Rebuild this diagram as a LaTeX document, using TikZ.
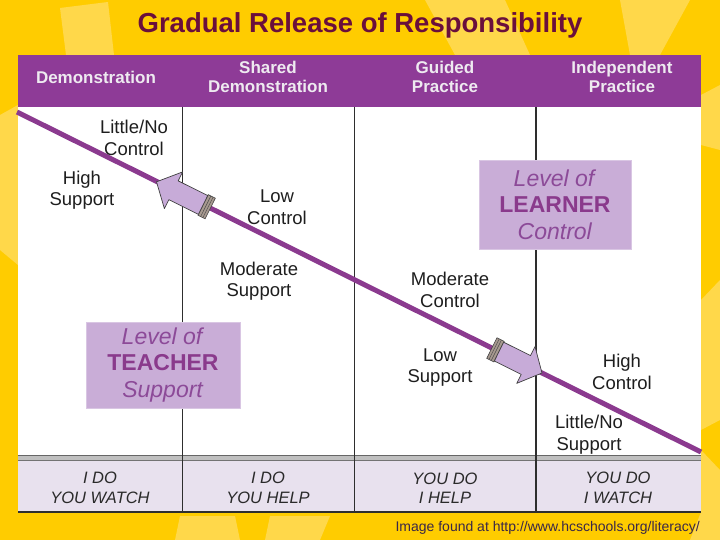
\documentclass[tikz,border=0pt]{standalone}
\usepackage{fontspec}
\setmainfont{Liberation Sans}
\definecolor{bgyellow}{HTML}{FFCC00}
\definecolor{lightpatch}{HTML}{FFD84A}
\definecolor{titlecol}{HTML}{6A0F3C}
\definecolor{hdrfill}{HTML}{8E3B97}
\definecolor{hdrtext}{HTML}{EEEAF0}
\definecolor{linecol}{HTML}{8B3A8F}
\definecolor{divcol}{HTML}{2E2E2E}
\definecolor{boxfill}{HTML}{C9ADD7}
\definecolor{boxtext}{HTML}{8C4A98}
\definecolor{boxbold}{HTML}{8A3A8C}
\definecolor{rowfill}{HTML}{E8E1EE}
\definecolor{rowtext}{HTML}{2A2A2A}
\definecolor{lbltext}{HTML}{1E1E1E}
\definecolor{arrowfill}{HTML}{C7ABD8}
\definecolor{bandfill}{HTML}{A89A90}
\definecolor{creditcol}{HTML}{3A2748}
\tikzset{
  hdr/.style={text=hdrtext, font=\bfseries\fontsize{17}{19.5}\selectfont, align=center, inner sep=0pt},
  lbl/.style={text=lbltext, font=\fontsize{18.5}{21.5}\selectfont, align=center, inner sep=0pt},
  rowlbl/.style={text=rowtext, font=\itshape\fontsize{16.5}{19.5}\selectfont, align=center, inner sep=0pt},
  levelbox/.style={fill=boxfill, draw=boxfill!70!white, line width=0.6pt, align=center, text=boxtext,
    font=\fontsize{23}{26.5}\selectfont, inner sep=0pt},
  divider/.style={draw=divcol, line width=1.3pt},
  patch/.style={fill=lightpatch, draw=none},
  blockarrow/.style={fill=arrowfill, draw=black!75, line width=0.7pt, line join=round},
  bandbox/.style={fill=bandfill, draw=black!75, line width=0.6pt},
}
\begin{document}
\begin{tikzpicture}[x=1pt,y=-1pt]
\useasboundingbox (0,0) rectangle (720,540);
% background
\fill[bgyellow] (0,0) rectangle (720,540);
\fill[patch] (60,8) -- (108,2) -- (114,55) -- (66,55) -- cycle;
\fill[patch] (425,0) -- (505,0) -- (530,55) -- (455,55) -- cycle;
\fill[patch] (620,0) -- (690,0) -- (660,55) -- (630,55) -- cycle;
\fill[patch] (0,115) -- (18,105) -- (18,265) -- (0,250) -- cycle;
\fill[patch] (701,95) -- (720,85) -- (720,150) -- (701,145) -- cycle;
\fill[patch] (701,300) -- (720,280) -- (720,420) -- (701,430) -- cycle;
\fill[patch] (701,450) -- (720,470) -- (720,540) -- (690,540) -- (701,512) -- cycle;
\fill[patch] (180,516) -- (235,516) -- (240,540) -- (175,540) -- cycle;
\fill[patch] (270,516) -- (330,516) -- (320,540) -- (265,540) -- cycle;
% title
\node[text=titlecol, font=\bfseries\fontsize{27.5}{30}\selectfont, inner sep=0pt] (title) at (360,25) {Gradual Release of Responsibility};
% table
\node[fill=white, minimum width=683pt, minimum height=405pt, inner sep=0pt] (body) at (359.5,309.5) {};
\node[fill=hdrfill, minimum width=683pt, minimum height=52pt, inner sep=0pt] (header) at (359.5,81) {};
\node[fill=rowfill, minimum width=683pt, minimum height=52pt, inner sep=0pt] (bottomrow) at (359.5,486) {};
\fill[black!25] (18,455) rectangle (701,460);
\draw[black!60, line width=1pt] (18,455) -- (701,455);
\draw[black!55, line width=1pt] (18,460) -- (701,460);
\draw[divcol, line width=1.2pt] (18,512) -- (701,512);
% column dividers
\coordinate (d1t) at (182.5,107); \coordinate (d1b) at (182.5,512);
\coordinate (d2t) at (354.5,107); \coordinate (d2b) at (354.5,512);
\coordinate (d3t) at (536,107);   \coordinate (d3b) at (536,512);
\draw[divider] (d1t) -- (d1b);
\draw[divider] (d2t) -- (d2b);
\draw[divider] (d3t) -- (d3b);
% header texts
\node[hdr] (h1) at (96,77) {Demonstration};
\node[hdr] (h2) at (268,77) {Shared\\Demonstration};
\node[hdr] (h3) at (445,77) {Guided\\Practice};
\node[hdr] (h4) at (622,77) {Independent\\Practice};
% level boxes
\node[levelbox, minimum width=152pt, minimum height=89pt] (learner) at (555,204.5)
  {\textit{Level of}\\\textcolor{boxbold}{\bfseries LEARNER}\\\textit{Control}};
\node[levelbox, minimum width=154pt, minimum height=86pt] (teacher) at (163,365)
  {\textit{Level of}\\\textcolor{boxbold}{\bfseries TEACHER}\\\textit{Support}};
% diagonal
\coordinate (ds) at (17,112);
\coordinate (de) at (701,452);
\draw[linecol, line width=5pt] (ds) -- (de);
% left arrow (pointing up-left)
\begin{scope}[shift={(156.5,181.8)}, rotate=153.57]
  \draw[bandbox] (-52,-11.5) rectangle (-60,11.5);
  \draw[black!70, line width=0.5pt] (-55,-11.5) -- (-55,11.5) (-57.5,-11.5) -- (-57.5,11.5);
  \draw[blockarrow] (0,0) -- (-19,-20.5) -- (-19,-10.5) -- (-52,-10.5) -- (-52,10.5) -- (-19,10.5) -- (-19,20.5) -- cycle;
\end{scope}
% right arrow (pointing down-right)
\begin{scope}[shift={(542,373)}, rotate=-26.43]
  \draw[bandbox] (-48,-11.5) rectangle (-56,11.5);
  \draw[black!70, line width=0.5pt] (-51,-11.5) -- (-51,11.5) (-53.5,-11.5) -- (-53.5,11.5);
  \draw[blockarrow] (0,0) -- (-18,-20.5) -- (-18,-10.5) -- (-48,-10.5) -- (-48,10.5) -- (-18,10.5) -- (-18,20.5) -- cycle;
\end{scope}
% labels
\node[lbl] (l1) at (134,138) {Little/No\\Control};
\node[lbl] (l2) at (82,190) {High\\Support};
\node[lbl] (l3) at (277,207) {Low\\Control};
\node[lbl] (l4) at (259,281) {Moderate\\Support};
\node[lbl] (l5) at (450,290) {Moderate\\Control};
\node[lbl] (l6) at (440,367.5) {Low\\Support};
\node[lbl] (l7) at (622,372) {High\\Control};
\node[lbl] (l8) at (589,434.5) {Little/No\\Support};
% bottom row labels
\node[rowlbl] (r1) at (100,488) {I DO\\YOU WATCH};
\node[rowlbl] (r2) at (268,488) {I DO\\YOU HELP};
\node[rowlbl] (r3) at (445,488) {YOU DO\\I HELP};
\node[rowlbl] (r4) at (618,488) {YOU DO\\I WATCH};
% credit
\node[text=creditcol, font=\fontsize{14}{16}\selectfont, anchor=east, inner sep=0pt] (credit) at (700,528) {Image found at http://www.hcschools.org/literacy/};
\end{tikzpicture}
\end{document}
